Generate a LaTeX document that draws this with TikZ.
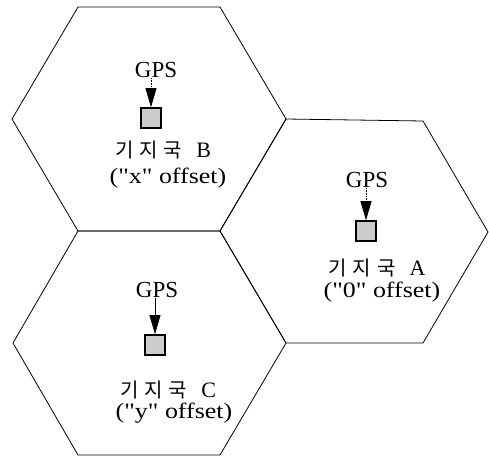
\documentclass[tikz,border=0pt]{standalone}
\usepackage{fontspec}
\setmainfont{Liberation Serif}
\newfontfamily\kr{Noto Sans CJK KR}
\newfontfamily\widefont{Liberation Serif}[FakeStretch=1.18]
\usetikzlibrary{arrows.meta}

\tikzset{
  cell/.style={draw, line width=0.8pt, line join=miter},
  gpslabel/.style={font=\fontsize{23}{23}\selectfont, inner sep=0pt},
  station/.style={draw, line width=1.6pt, fill=gray!40, minimum size=20pt, inner sep=0pt},
  stname/.style={font=\fontsize{22}{22}\selectfont, inner sep=0pt},
  offsetlabel/.style={font=\widefont\fontsize{22}{22}\selectfont, inner sep=0pt},
  feed/.style={line width=0.6pt, -{Triangle[width=11pt,length=19pt]}},
}
\newcommand{\hangul}{{\kr\fontsize{20}{20}\selectfont 기\hspace{6pt}지\hspace{6pt}국}\hspace{14pt}}

\begin{document}
\begin{tikzpicture}[x=1pt,y=-1pt]
\useasboundingbox (0,0) rectangle (489,458);

% three hexagonal cells
\draw[cell] (78,7) -- (220,7) -- (286,119) -- (220,231) -- (78,231) -- (12,119) -- cycle;
\draw[cell] (78,231) -- (220,231) -- (286,343) -- (220,455) -- (78,455) -- (13,343) -- cycle;
\draw[cell] (220,231) -- (286,119) -- (423,121) -- (488,232) -- (423,343) -- (286,343) -- cycle;

% cell B
\node[gpslabel] (gpsB) at (156,70) {GPS};
\node[station] (sqB) at (151,118) {};
\node[stname] (nameB) at (163,150) {\hangul B};
\node[offsetlabel] (offB) at (168,178) {("x" offset)};
\draw[feed, densely dotted] (gpsB.south -| sqB.north) -- (sqB.north);

% cell A
\node[gpslabel] (gpsA) at (367,180) {GPS};
\node[station] (sqA) at (366,231) {};
\node[stname] (nameA) at (377,268) {\hangul A};
\node[offsetlabel] (offA) at (382,292) {("0" offset)};
\draw[feed, densely dotted] (gpsA.south -| sqA.north) -- (sqA.north);

% cell C
\node[gpslabel] (gpsC) at (157,290) {GPS};
\node[station] (sqC) at (155,345) {};
\node[stname] (nameC) at (168,390) {\hangul C};
\node[offsetlabel] (offC) at (174,413) {("y" offset)};
\draw[feed] (gpsC.south -| sqC.north) -- (sqC.north);
\end{tikzpicture}
\end{document}
